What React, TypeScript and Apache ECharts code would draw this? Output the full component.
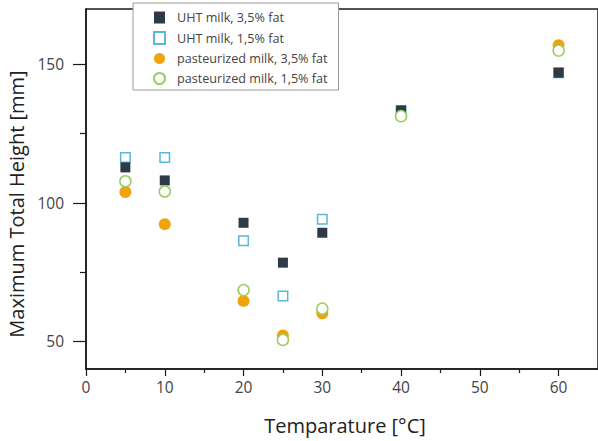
import React, { useEffect, useRef } from "react";
import * as echarts from "echarts";

const temperatures = [5, 10, 20, 25, 30, 40, 60];
const uht35 = [112.8, 108.1, 92.8, 78.4, 89.2, 133.4, 147.0];
const uht15 = [116.4, 116.4, 86.3, 66.4, 94.1, 133.2, 147.0];
const past35 = [103.9, 92.3, 64.6, 52.1, 60.1, 131.3, 156.9];
const past15 = [107.8, 104.1, 68.5, 50.5, 61.8, 131.3, 155.0];
const seriesNames = [
  "UHT milk, 3,5% fat",
  "UHT milk, 1,5% fat",
  "pasteurized milk, 3,5% fat",
  "pasteurized milk, 1,5% fat",
];
const xMajorTicks = [0, 10, 20, 30, 40, 50, 60];
const xMinorTicks = [5, 15, 25, 35, 45, 55];
const yMajorTicks = [50, 100, 150];
const yMinorTicks = [75, 125];

const FONT = "Open Sans";
const AXIS = "#1a1a1a";

export default function App() {
  const ref = useRef<HTMLDivElement>(null);
  useEffect(() => {
    const chart = echarts.init(ref.current!, null, { renderer: "svg" });
    const pair = (ys: number[]) => temperatures.map((t, i) => [t, ys[i]]);
    const labelStyle = { fontFamily: FONT, fontSize: 15.5, color: "#444" };
    chart.setOption({
      animation: false,
      backgroundColor: "#fff",
      grid: {
        left: 86,
        top: 9,
        width: 515,
        height: 360,
        show: true,
        borderColor: AXIS,
        borderWidth: 1.5,
        backgroundColor: "transparent",
      },
      legend: {
        orient: "vertical",
        left: 133,
        top: 3,
        padding: [8, 11, 5, 20],
        itemGap: 7,
        itemWidth: 11,
        itemHeight: 12,
        borderColor: "#999",
        borderWidth: 1,
        backgroundColor: "#fff",
        textStyle: { fontFamily: FONT, fontSize: 12.6, color: "#444", padding: [0, 0, 0, 7] },
        data: seriesNames,
      },
      xAxis: [
        {
          type: "value",
          min: 0,
          max: 65,
          axisLine: { show: true, onZero: false, lineStyle: { color: AXIS, width: 1.5 } },
          axisTick: { show: true, customValues: xMajorTicks, length: 7, lineStyle: { color: AXIS, width: 1.2 } },
          axisLabel: { customValues: xMajorTicks, margin: 10, ...labelStyle },
          splitLine: { show: false },
        },
        {
          type: "value",
          min: 0,
          max: 65,
          position: "bottom",
          axisLine: { show: false },
          axisTick: { show: true, customValues: xMinorTicks, length: 4, lineStyle: { color: AXIS, width: 1.2 } },
          axisLabel: { show: false },
          splitLine: { show: false },
        },
      ],
      yAxis: [
        {
          type: "value",
          min: 40,
          max: 170,
          axisLine: { show: true, onZero: false, lineStyle: { color: AXIS, width: 1.5 } },
          axisTick: { show: true, customValues: yMajorTicks, length: 13, lineStyle: { color: AXIS, width: 1.2 } },
          axisLabel: { customValues: yMajorTicks, margin: 22, ...labelStyle },
          splitLine: { show: false },
        },
        {
          type: "value",
          min: 40,
          max: 170,
          position: "left",
          axisLine: { show: false },
          axisTick: { show: true, customValues: yMinorTicks, length: 6, lineStyle: { color: AXIS, width: 1.2 } },
          axisLabel: { show: false },
          splitLine: { show: false },
        },
      ],
      series: [
        {
          name: seriesNames[0],
          type: "scatter",
          symbol: "rect",
          symbolSize: 10,
          z: 3,
          itemStyle: { color: "#2e3a46", opacity: 1 },
          data: pair(uht35),
        },
        {
          name: seriesNames[1],
          type: "scatter",
          symbol: "rect",
          symbolSize: 9.5,
          z: 2,
          itemStyle: { color: "#fff", borderColor: "#5ab7dc", borderWidth: 1.5, opacity: 1 },
          data: pair(uht15),
        },
        {
          name: seriesNames[2],
          type: "scatter",
          symbol: "circle",
          symbolSize: 12,
          z: 4,
          itemStyle: { color: "#efa40c", opacity: 1 },
          data: pair(past35),
        },
        {
          name: seriesNames[3],
          type: "scatter",
          symbol: "circle",
          symbolSize: 11,
          z: 5,
          itemStyle: { color: "#fff", borderColor: "#9dcb62", borderWidth: 1.5, opacity: 1 },
          data: pair(past15),
        },
      ],
      graphic: [
        {
          type: "text",
          x: 16,
          y: 204,
          rotation: Math.PI / 2,
          style: {
            text: "Maximum Total Height [mm]",
            fontFamily: FONT,
            fontSize: 20,
            fill: "#222",
            align: "center",
            verticalAlign: "middle",
          },
        },
        {
          type: "text",
          x: 345,
          y: 425,
          style: {
            text: "Temparature [°C]",
            fontFamily: FONT,
            fontSize: 20,
            fill: "#222",
            align: "center",
            verticalAlign: "middle",
          },
        },
      ],
    });
    return () => chart.dispose();
  }, []);
  return (
    <div
      ref={ref}
      style={{ position: "fixed", left: 0, top: 0, width: 598, height: 441 }}
    />
  );
}
